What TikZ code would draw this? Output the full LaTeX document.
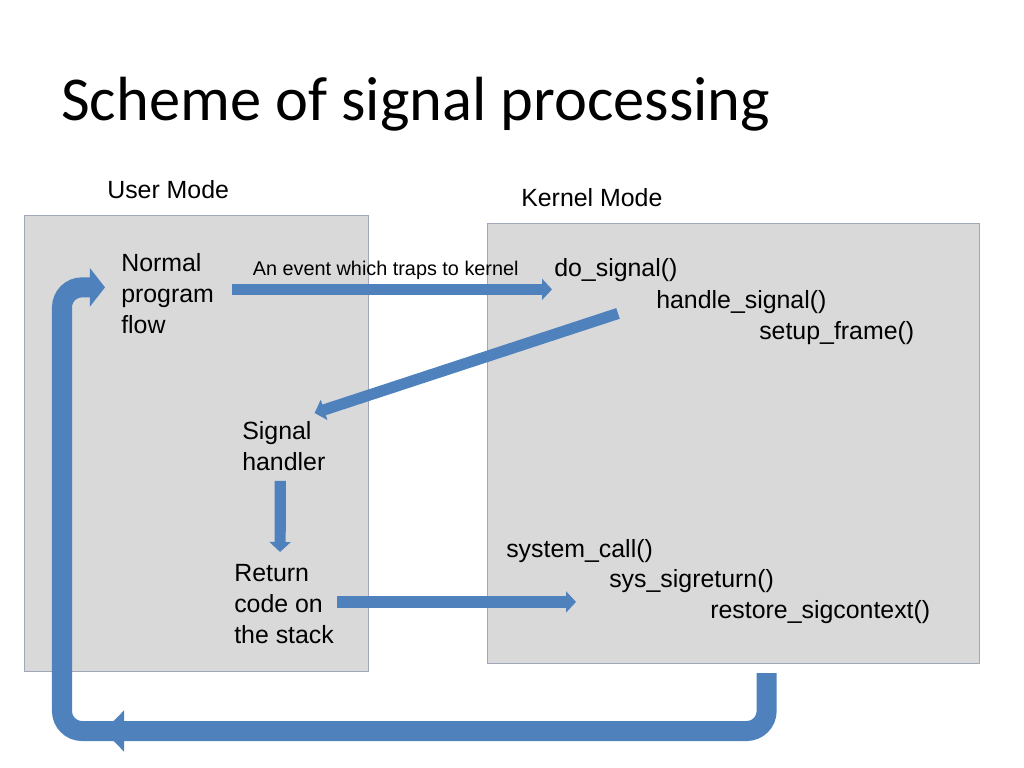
\documentclass[tikz,border=0pt]{standalone}
\usepackage{fontspec}
\setmainfont{Liberation Sans}
\newfontfamily\titlefont{Carlito}
\usetikzlibrary{arrows.meta,positioning,calc}
\definecolor{arrowblue}{RGB}{79,129,189}
\definecolor{boxfill}{RGB}{217,217,217}
\definecolor{boxline}{RGB}{160,168,184}

\begin{document}
\begin{tikzpicture}[
    x=0.025cm, y=-0.025cm,
    modebox/.style={rectangle, draw=boxline, fill=boxfill, line width=0.8pt, anchor=north west, inner sep=0pt},
    txt/.style={inner sep=0pt, align=left, anchor=north west, font=\fontsize{17.7}{22}\selectfont},
    func/.style={inner sep=0pt, anchor=base west, font=\fontsize{17.7}{22}\selectfont},
    event/.style={inner sep=0pt, font=\fontsize{14.1}{17}\selectfont},
    blockarrow/.style={draw=arrowblue, line width=0.28cm, -{Triangle[length=0.25cm, width=0.52cm]}},
    bigarrow/.style={draw=arrowblue, line width=0.5cm, rounded corners=0.5cm},
]
    \useasboundingbox (0,0) rectangle (1024,768);

    % Title
    \node[anchor=base west, inner sep=0pt, font=\titlefont\fontsize{44.4}{53}\selectfont] (title) at (61,121) {Scheme of signal processing};

    % Modes
    \node[modebox, minimum width=8.6cm, minimum height=11.4cm] (ubox) at (24,215) {};
    \node[modebox, minimum width=12.3cm, minimum height=11cm] (kbox) at (487,223) {};
    \node[func] (umode) at (107,198) {User Mode};
    \node[func] (kmode) at (521,206) {Kernel Mode};

    % User side
    \node[txt] (normal) at (121,253) {Normal\\program\\flow};
    \node[txt] (sighand) at (242,421) {Signal\\handler};
    \node[txt] (retcode) at (234,564) {Return\\code on\\the stack};

    % Kernel side
    \node[func] (dosig) at (554,276) {do\_signal()};
    \node[func] (handle) at (656,308) {handle\_signal()};
    \node[func] (setup) at (759,339) {setup\_frame()};
    \node[func] (syscall) at (506,557) {system\_call()};
    \node[func] (sysret) at (609,587) {sys\_sigreturn()};
    \node[func] (restore) at (710,618) {restore\_sigcontext()};

    % Connections
    \draw[blockarrow] ($(normal.east)+(18,-4)$) -- ($(normal.east -| dosig.west)+(-2,-4)$)
        node[event, above=0.1cm, pos=0.48] (trap) {An event which traps to kernel};
    \draw[blockarrow] ($(handle.south west)+(-38,0)$) -- ($(sighand.north east)+(-11,-8)$);
    \draw[blockarrow] ($(sighand.south)+(-3.5,10)$) -- ($(retcode.north)+(-4,-12)$);
    \draw[blockarrow] ($(retcode.east)+(3,-2)$) -- ($(retcode.east -| sysret.west)+(-33,-2)$);

    % Return to user mode
    \coordinate (bend) at (62,731);
    \draw[bigarrow, -{Triangle[length=0.38cm, width=0.95cm]}] ($(bend)+(60,0)$) -- (bend) |- ($(normal.west)+(-16,-6)$);
    \draw[bigarrow, -{Triangle[length=0.5cm, width=1cm]}] ($(kbox.south)+(33,9)$) |- ($(bend)+(42,0)$);
\end{tikzpicture}
\end{document}
